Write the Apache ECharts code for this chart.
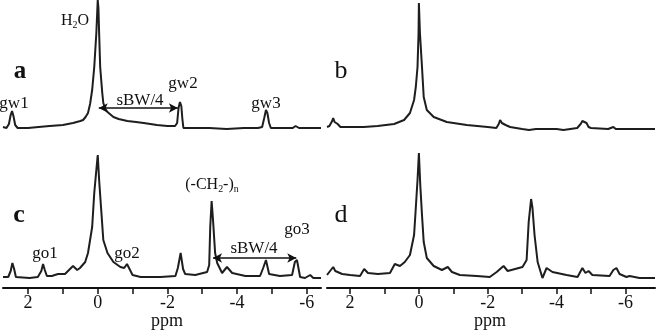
<!DOCTYPE html>
<html>
<head>
<meta charset="utf-8">
<script src="https://cdn.jsdelivr.net/npm/echarts@6/dist/echarts.min.js"></script>
<style>
  html, body { margin: 0; padding: 0; background: #fff; }
  #chart { width: 657px; height: 331px; }
</style>
</head>
<body>
<div id="chart"></div>
<script>
// 读图得到的谱线数据 [ppm, 强度]
var specA = [
  [2.72, 1], [2.62, 0], [2.55, 4], [2.50, 13], [2.46, 17], [2.42, 12], [2.37, 3], [2.30, 0],
  [2.0, 0], [1.7, 1], [1.38, 2], [1.0, 3], [0.71, 5], [0.5, 7], [0.42, 8], [0.35, 11],
  [0.28, 15], [0.22, 24], [0.16, 38], [0.10, 61], [0.04, 95], [0.01, 120], [0, 128],
  [-0.02, 120], [-0.04, 95], [-0.07, 61], [-0.13, 35], [-0.16, 25], [-0.22, 19], [-0.28, 16],
  [-0.45, 11], [-0.6, 9], [-0.85, 7], [-1.1, 6], [-1.32, 5], [-1.7, 3], [-2.0, 2],
  [-2.22, 2], [-2.28, 5], [-2.32, 20], [-2.36, 26], [-2.40, 22], [-2.43, 9], [-2.46, 0],
  [-2.7, 0], [-3.2, 0], [-3.7, -1], [-4.2, 0], [-4.6, 0], [-4.72, 1], [-4.78, 10],
  [-4.83, 18], [-4.87, 15], [-4.92, 5], [-4.97, 0], [-5.3, 0], [-5.6, 0], [-5.68, 2],
  [-5.72, 2], [-5.78, 0], [-6.1, 0], [-6.41, 0]
]
var specB = [
  [2.67, 2], [2.60, 3], [2.52, 8], [2.49, 11], [2.45, 7], [2.41, 9], [2.36, 5], [2.28, 2],
  [2.0, 2], [1.6, 2], [1.2, 3], [0.72, 5], [0.43, 9], [0.26, 16], [0.14, 29], [0.09, 42],
  [0.04, 62], [0.01, 96], [0, 126], [-0.03, 96], [-0.09, 62], [-0.14, 32], [-0.23, 19],
  [-0.43, 12], [-0.81, 7], [-1.39, 4], [-2.0, 2], [-2.25, 1], [-2.32, 5], [-2.36, 9],
  [-2.41, 6], [-2.46, 8], [-2.52, 4], [-2.65, 2], [-3.0, 0], [-3.2, -1], [-3.4, 0],
  [-4.0, 0], [-4.2, -1], [-4.6, 1], [-4.70, 5], [-4.75, 8], [-4.80, 6], [-4.87, 6],
  [-4.93, 2], [-5.0, 1], [-5.5, 0], [-5.65, 2], [-5.72, 0], [-6.0, 0], [-6.5, 0], [-6.86, 0]
]
var specC = [
  [2.72, 2], [2.57, 2], [2.50, 8], [2.45, 16], [2.40, 10], [2.35, 2], [1.96, 1], [1.72, 2],
  [1.62, 8], [1.57, 15], [1.52, 9], [1.46, 3], [1.32, 3], [1.14, 5], [0.94, 5], [0.71, 13],
  [0.59, 9], [0.51, 11], [0.36, 17], [0.28, 26], [0.16, 52], [0.10, 86], [0.04, 109],
  [0, 124], [-0.04, 99], [-0.10, 69], [-0.16, 39], [-0.28, 26], [-0.45, 17], [-0.65, 12],
  [-0.76, 11], [-0.84, 15], [-1.0, 4], [-1.23, 2], [-1.8, 2], [-2.23, 3], [-2.30, 11],
  [-2.38, 26], [-2.45, 10], [-2.51, 5], [-2.80, 4], [-3.14, 7], [-3.20, 14], [-3.23, 52],
  [-3.27, 78], [-3.31, 59], [-3.37, 26], [-3.43, 16], [-3.57, 6], [-3.71, 12], [-3.86, 6],
  [-4.24, 3], [-4.66, 3], [-4.75, 11], [-4.83, 19], [-4.92, 5], [-5.23, 3], [-5.58, 4],
  [-5.66, 17], [-5.72, 19], [-5.81, 2], [-5.95, 1], [-6.10, 4], [-6.19, 1], [-6.41, 1]
]
var specD = [
  [2.67, 4], [2.49, 12], [2.43, 8], [2.38, 10], [2.23, 5], [2.0, 4], [1.71, 3], [1.59, 10],
  [1.48, 6], [1.19, 5], [0.84, 6], [0.70, 15], [0.55, 13], [0.41, 17], [0.26, 24],
  [0.14, 44], [0.09, 71], [0.04, 99], [0, 126], [-0.04, 94], [-0.09, 64], [-0.14, 37],
  [-0.23, 21], [-0.43, 13], [-0.67, 9], [-0.84, 12], [-0.96, 7], [-1.19, 4], [-1.68, 3],
  [-2.06, 2], [-2.26, 7], [-2.46, 13], [-2.58, 8], [-3.01, 12], [-3.13, 19], [-3.19, 57],
  [-3.26, 80], [-3.30, 71], [-3.36, 44], [-3.45, 17], [-3.59, 1], [-3.71, 11], [-3.88, 7],
  [-4.29, 4], [-4.61, 2], [-4.75, 11], [-4.84, 6], [-4.93, 8], [-5.04, 4], [-5.54, 3],
  [-5.65, 9], [-5.74, 11], [-5.83, 5], [-6.03, 2], [-6.12, 3], [-6.41, 1], [-6.86, 1]
]
// 坐标轴刻度
var tickLabels = [2, 0, -2, -4, -6]
var tickMarks = [2, 1, 0, -1, -2, -3, -4, -5, -6]
// 箭头 sBW/4 两端 [ppm, 强度]
var arrowA = [[-0.03, 20], [-2.30, 20]]
var arrowC = [[-3.31, 21], [-5.70, 21]]

var serif = '"Liberation Serif", "DejaVu Serif", serif'
var lineColor = '#1e1e1e'

function makeX (idx, min, max, show) {
  return {
    type: 'value', gridIndex: idx, inverse: true, min: min, max: max, show: show,
    splitLine: { show: false },
    axisLine: { show: true, onZero: false, lineStyle: { color: '#111', width: 2 } },
    axisTick: { show: true, length: 6, customValues: tickMarks, lineStyle: { color: '#111', width: 1.5 } },
    axisLabel: { show: true, customValues: tickLabels, margin: 6, color: '#111', fontFamily: serif, fontSize: 18 }
  }
}
function makeY (idx, min, max) {
  return { type: 'value', gridIndex: idx, min: min, max: max, show: false, splitLine: { show: false } }
}
function makeLine (idx, data, arrow) {
  var s = {
    type: 'line', xAxisIndex: idx, yAxisIndex: idx, data: data,
    showSymbol: false, animation: false, silent: true,
    lineStyle: { color: lineColor, width: 2 }
  }
  if (arrow) {
    s.markLine = {
      silent: true, symbol: ['arrow', 'arrow'], symbolSize: [7, 9],
      label: { show: false },
      lineStyle: { color: '#111', width: 1.5, type: 'solid' },
      data: [[{ coord: arrow[0] }, { coord: arrow[1] }]]
    }
  }
  return s
}
function txt (x, y, text, size, bold) {
  return {
    type: 'text', x: x, y: y, silent: true,
    style: {
      text: text, fill: '#111', font: (bold ? 'bold ' : '') + size + 'px ' + serif,
      textAlign: 'center', textVerticalAlign: 'middle'
    }
  }
}
function sub (x, y, text, size) {
  // 带下标的文字
  var t = txt(x, y, text, size, false)
  t.style.rich = {
    n: { fontFamily: serif, fontSize: size, fill: '#111', lineHeight: size + 2 },
    s: { fontFamily: serif, fontSize: size * 0.62, fill: '#111', verticalAlign: 'bottom', lineHeight: size + 2 }
  }
  return t
}

var myChart = echarts.init(document.getElementById('chart'))
var option = {
  backgroundColor: '#fff',
  animation: false,
  grid: [
    { left: 3, width: 318, top: 0, height: 130 },
    { left: 327, width: 328, top: 0, height: 131 },
    { left: 3, width: 318, top: 150, height: 138 },
    { left: 327, width: 328, top: 150, height: 138 }
  ],
  xAxis: [
    makeX(0, -6.41, 2.72, false),
    makeX(1, -6.86, 2.67, false),
    makeX(2, -6.41, 2.72, true),
    makeX(3, -6.86, 2.67, true)
  ],
  yAxis: [makeY(0, -2, 128), makeY(1, -2, 129), makeY(2, -9, 129), makeY(3, -9, 129)],
  series: [
    makeLine(0, specA, arrowA),
    makeLine(1, specB),
    makeLine(2, specC, arrowC),
    makeLine(3, specD)
  ],
  graphic: [
    sub(75, 21, '{n|H}{s|2}{n|O}', 16),
    txt(20, 72, 'a', 25, true),
    txt(14, 104, 'gw1', 17),
    txt(140, 101, 'sBW/4', 17),
    txt(183, 84, 'gw2', 17),
    txt(266, 104, 'gw3', 17),
    txt(341, 71, 'b', 26),
    txt(19, 215, 'c', 26, true),
    txt(45, 254, 'go1', 17),
    txt(127, 254, 'go2', 17),
    sub(212, 185, '{n|(-CH}{s|2}{n|-)}{s|n}', 16),
    txt(254, 249, 'sBW/4', 17),
    txt(297, 230, 'go3', 17),
    txt(341, 215, 'd', 26),
    txt(167, 321, 'ppm', 18),
    txt(490, 321, 'ppm', 18)
  ]
}
myChart.setOption(option, true)
window.addEventListener('resize', function () {
  myChart.resize()
})
</script>
</body>
</html>
